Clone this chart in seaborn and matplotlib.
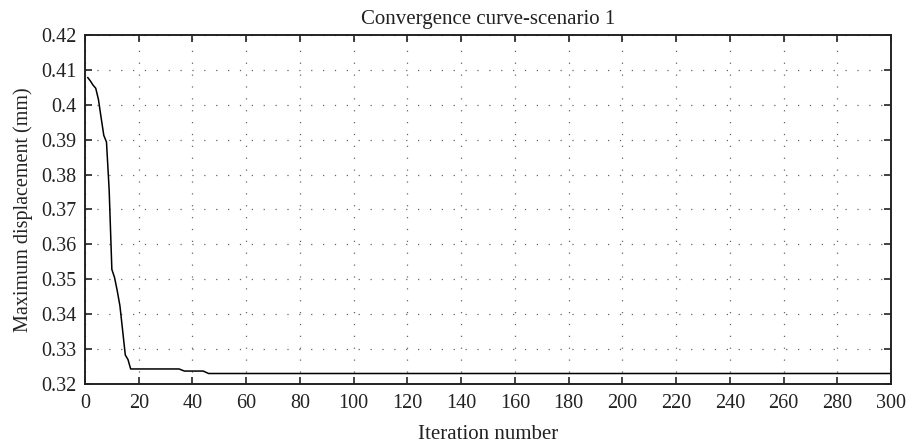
import matplotlib
matplotlib.use("Agg")
import matplotlib.pyplot as plt
import seaborn as sns
import pandas as pd

# Best objective value recorded at each iteration (flat stretches collapsed to their end points)
iterations = [1, 2, 3, 4, 5, 6, 7, 8, 9, 10, 11, 12, 13, 14, 15, 16, 17, 35, 37, 44, 46, 300]
max_displacement = [0.4078, 0.4068, 0.4056, 0.4047, 0.4015, 0.3963, 0.3912, 0.3893, 0.3755,
                    0.3528, 0.3505, 0.3467, 0.3424, 0.3354, 0.3283, 0.3270, 0.3243,
                    0.3243, 0.3237, 0.3237, 0.3230, 0.3230]

x_ticks = list(range(0, 301, 20))
y_ticks = [0.32, 0.33, 0.34, 0.35, 0.36, 0.37, 0.38, 0.39, 0.40, 0.41, 0.42]
y_tick_labels = ["0.32", "0.33", "0.34", "0.35", "0.36", "0.37", "0.38", "0.39", "0.4", "0.41", "0.42"]

sns.set_style("ticks")
plt.rcParams["font.family"] = ["Liberation Serif", "DejaVu Serif"]

df = pd.DataFrame({"Iteration": iterations, "Value": max_displacement})

fig = plt.figure(figsize=(9.09, 4.47), dpi=100)
ax = fig.add_axes([0.0935, 0.141, 0.8867, 0.781])

sns.lineplot(data=df, x="Iteration", y="Value", ax=ax, color="black", linewidth=1.1)

ax.set_xlim(0, 300)
ax.set_ylim(0.32, 0.42)
ax.set_xticks(x_ticks)
ax.set_yticks(y_ticks)
ax.set_yticklabels(y_tick_labels)
ax.grid(True, linestyle=(0, (1, 8.5)), color="#666666", linewidth=0.9)

for side in ["top", "right", "bottom", "left"]:
    ax.spines[side].set_visible(True)
    ax.spines[side].set_linewidth(1.4)
    ax.spines[side].set_color("#222222")

ax.tick_params(direction="in", length=5, width=1.2, top=True, right=True,
               labelsize=14.5, colors="#222222")
ax.tick_params(axis="x", pad=7)
ax.tick_params(axis="y", pad=6)

ax.set_title("Convergence curve-scenario 1", fontsize=15, pad=8, color="#222222")
ax.set_xlabel("Iteration number", fontsize=15, labelpad=9, color="#222222")
ax.set_ylabel("Maximum displacement (mm)", fontsize=14.5, labelpad=6, color="#222222")

fig.savefig("out.png", dpi=100)
